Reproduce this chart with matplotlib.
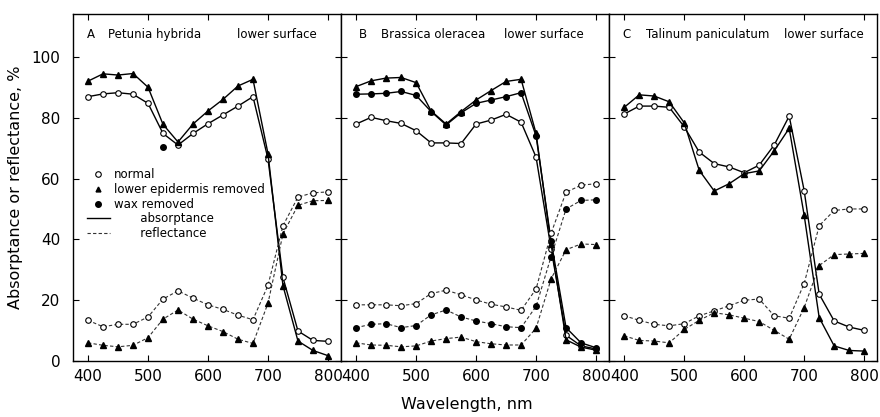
import numpy as np
import matplotlib.pyplot as plt
from matplotlib.lines import Line2D

wl = [400, 425, 450, 475, 500, 525, 550, 575, 600, 625, 650, 675, 700, 725, 750, 775, 800]

# A  Petunia hybrida
A_abs_normal = [86.9, 87.8, 88.2, 87.7, 84.7, 74.8, 71.0, 74.8, 78.0, 80.9, 83.8, 86.9, 66.5, 27.5, 9.9, 6.8, 6.5]
A_abs_epid = [92.0, 94.4, 94.0, 94.5, 90.0, 77.8, 72.0, 77.9, 82.2, 86.0, 90.4, 92.6, 68.2, 24.8, 6.6, 3.5, 1.8]
A_wax_wl = [525]
A_wax_val = [70.4]
A_ref_normal = [13.4, 11.3, 12.1, 12.1, 14.5, 20.4, 23.1, 20.7, 18.5, 17.0, 15.1, 13.6, 24.9, 44.5, 53.9, 55.3, 55.6]
A_ref_epid = [6.0, 5.2, 4.7, 5.2, 7.7, 13.8, 16.8, 13.8, 11.6, 9.7, 7.2, 5.8, 19.0, 41.8, 51.2, 52.7, 52.8]

# B  Brassica oleracea
B_abs_normal = [77.9, 80.1, 79.0, 78.1, 75.7, 71.7, 71.7, 71.5, 77.9, 79.2, 81.1, 78.5, 67.0, 37.0, 8.5, 5.0, 4.0]
B_abs_epid = [90.2, 92.1, 93.0, 93.2, 91.5, 82.2, 77.9, 82.0, 85.8, 88.9, 91.9, 92.6, 74.8, 38.5, 7.0, 4.6, 3.6]
B_abs_wax = [87.7, 87.8, 88.0, 88.6, 87.3, 82.0, 77.6, 81.6, 84.7, 85.8, 86.9, 88.2, 74.0, 39.5, 11.0, 6.0, 4.4]
B_ref_normal = [18.5, 18.5, 18.5, 18.2, 18.9, 22.2, 23.3, 21.8, 20.1, 18.7, 17.8, 16.7, 23.7, 42.0, 55.5, 57.8, 58.3]
B_ref_wax = [11.0, 12.1, 12.3, 11.0, 11.7, 15.2, 16.8, 14.5, 13.2, 12.3, 11.3, 11.0, 18.0, 34.3, 50.0, 52.8, 53.0]
B_ref_epid = [6.0, 5.3, 5.2, 4.7, 5.0, 6.6, 7.4, 7.9, 6.4, 5.7, 5.3, 5.3, 10.8, 27.0, 36.6, 38.5, 38.3]

# C  Talinum paniculatum
C_abs_normal = [81.2, 83.8, 83.8, 83.4, 77.0, 68.7, 64.9, 63.8, 61.9, 64.4, 71.0, 80.5, 56.0, 22.0, 13.2, 11.2, 10.1]
C_abs_epid = [83.4, 87.5, 87.1, 85.2, 78.3, 62.7, 55.9, 58.3, 61.6, 62.5, 69.1, 76.5, 47.9, 14.3, 5.0, 3.5, 3.3]
C_ref_normal = [14.9, 13.4, 12.1, 11.6, 12.3, 14.9, 16.5, 18.2, 20.0, 20.4, 14.9, 14.1, 25.5, 44.5, 49.5, 50.0, 50.0]
C_ref_epid = [8.3, 6.8, 6.6, 6.0, 10.4, 13.4, 15.9, 15.2, 14.1, 13.0, 10.1, 7.2, 17.6, 31.4, 35.0, 35.2, 35.4]

plt.rcParams['font.family'] = ['DejaVu Sans']

fig, axes = plt.subplots(1, 3, sharey=True, figsize=(8.8, 4.17), dpi=100)
plt.subplots_adjust(left=0.083, right=0.997, bottom=0.134, top=0.966, wspace=0)

solid = dict(color='black', lw=1.0, linestyle='-')
dash = dict(color='#333333', lw=0.8, linestyle=(0, (3, 2)))
m_open = dict(marker='o', ms=4, mfc='white', mec='black', mew=0.8)
m_tri = dict(marker='^', ms=4, mfc='black', mec='black')
m_dot = dict(marker='o', ms=4, mfc='black', mec='black')


def plot_panel(ax, abs_series, ref_series):
    for vals, m in abs_series:
        ax.plot(wl, vals, **solid, **m)
    for vals, m in ref_series:
        ax.plot(wl, vals, **dash, **m)


axA, axB, axC = axes
plot_panel(axA, [(A_abs_normal, m_open), (A_abs_epid, m_tri)],
           [(A_ref_normal, m_open), (A_ref_epid, m_tri)])
axA.plot(A_wax_wl, A_wax_val, linestyle='none', **m_dot)

plot_panel(axB, [(B_abs_normal, m_open), (B_abs_epid, m_tri), (B_abs_wax, m_dot)],
           [(B_ref_normal, m_open), (B_ref_wax, m_dot), (B_ref_epid, m_tri)])

plot_panel(axC, [(C_abs_normal, m_open), (C_abs_epid, m_tri)],
           [(C_ref_normal, m_open), (C_ref_epid, m_tri)])

titles = [
    (axA, [('A', 0.052), ('Petunia hybrida', 0.13), ('lower surface', 0.61)]),
    (axB, [('B', 0.066), ('Brassica oleracea', 0.147), ('lower surface', 0.607)]),
    (axC, [('C', 0.05), ('Talinum paniculatum', 0.136), ('lower surface', 0.653)]),
]
for ax, parts in titles:
    for txt, xpos in parts:
        ax.text(xpos, 0.94, txt, transform=ax.transAxes, fontsize=8.5,
                va='center', ha='left')

for ax in axes:
    ax.set_xlim(375, 822)
    ax.set_ylim(0, 114)
    ax.set_xticks([400, 500, 600, 700, 800])
    ax.set_yticks([0, 20, 40, 60, 80, 100])
    ax.tick_params(direction='in', length=4, width=0.8, top=True, right=True,
                   labelsize=11, pad=6)
    for s in ax.spines.values():
        s.set_linewidth(1.0)
axA.tick_params(axis='y', pad=9)

handles = [
    Line2D([], [], linestyle='none', **m_open),
    Line2D([], [], linestyle='none', marker='^', ms=3.5, mfc='black', mec='black'),
    Line2D([], [], linestyle='none', **m_dot),
    Line2D([], [], **solid),
    Line2D([], [], **dash),
]
labels = ['normal', 'lower epidermis removed', 'wax removed', '       absorptance', '       reflectance']
axA.legend(handles, labels, loc='upper left', bbox_to_anchor=(0.02, 0.58),
           frameon=False, fontsize=8.5, handlelength=2.0, handletextpad=0.3,
           labelspacing=0.15, borderpad=0.2)

axA.set_ylabel('Absorptance or reflectance, %', fontsize=11.5, labelpad=6)
fig.text(0.53, 0.03, 'Wavelength, nm', ha='center', va='center', fontsize=11.5)

plt.savefig('out.png', dpi=100)
